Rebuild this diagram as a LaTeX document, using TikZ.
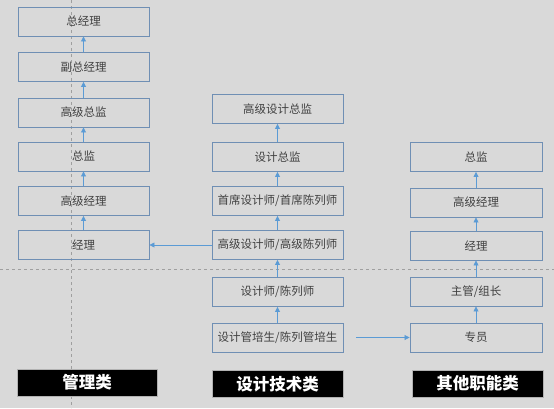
\documentclass[tikz,border=0pt]{standalone}
\usepackage{fontspec}
\setmainfont{Noto Sans CJK SC}
\usepackage{xcolor}
\usetikzlibrary{arrows.meta}

\definecolor{bggray}{HTML}{D9D9D9}
\definecolor{boxline}{HTML}{6F8FB4}
\definecolor{flowblue}{HTML}{5B9BD5}
\definecolor{txtgray}{HTML}{404040}

\begin{document}
\begin{tikzpicture}[x=1pt, y=-1pt,
        rank/.style={draw=boxline, line width=0.9pt, minimum width=131pt, minimum height=29pt, align=center, inner sep=1pt, font=\fontsize{11.5}{13}\selectfont, text=txtgray},
        category/.style={fill=black, draw=gray!60, minimum width=131pt, minimum height=27pt, font=\fontsize{16.5}{18}\selectfont\bfseries, text=white},
        guide/.style={gray!75, dashed, line width=0.5pt},
        flow/.style={-{Triangle[length=5pt, width=5pt]}, line width=0.8pt, flowblue}
    ]
        \useasboundingbox[fill=bggray] (0,0) rectangle (554,408);

        % guide lines
        \draw[guide] (71,0) -- (71,408);
        \draw[guide] (0,269) -- (554,269);

        % management track
        \node[rank] (mgmtceo) at (83.5,21.5) {总经理};
        \node[rank] (mgmtvp) at (83.5,67) {副总经理};
        \node[rank] (mgmtsrdir) at (83.5,112.5) {高级总监};
        \node[rank] (mgmtdir) at (83.5,156.5) {总监};
        \node[rank] (mgmtsrmgr) at (83.5,201) {高级经理};
        \node[rank] (mgmtmgr) at (83.5,245) {经理};

        % design track
        \node[rank] (dessrdir) at (277.5,109) {高级设计总监};
        \node[rank] (desdir) at (277.5,157) {设计总监};
        \node[rank] (deschief) at (277.5,201) {首席设计师/首席陈列师};
        \node[rank] (dessenior) at (277.5,245) {高级设计师/高级陈列师};
        \node[rank] (desjunior) at (277.5,292) {设计师/陈列师};
        \node[rank] (destrainee) at (277.5,337.5) {设计管培生/陈列管培生};

        % other functions track
        \node[rank, minimum width=132pt] (othdir) at (476,157) {总监};
        \node[rank, minimum width=132pt] (othsrmgr) at (476,202.5) {高级经理};
        \node[rank, minimum width=132pt] (othmgr) at (476,245.5) {经理};
        \node[rank, minimum width=132pt] (othlead) at (476,291.5) {主管/组长};
        \node[rank, minimum width=132pt] (othstaff) at (476,337.5) {专员};

        % categories
        \node[category, minimum width=140pt] (catmgmt) at (87,382.5) {管理类};
        \node[category] (catdes) at (277.5,384) {设计技术类};
        \node[category] (catoth) at (477.5,383.5) {其他职能类};

        \draw[flow] (mgmtvp) -- (mgmtceo);
        \draw[flow] (mgmtsrdir) -- (mgmtvp);
        \draw[flow] (mgmtdir) -- (mgmtsrdir);
        \draw[flow] (mgmtsrmgr) -- (mgmtdir);
        \draw[flow] (mgmtmgr) -- (mgmtsrmgr);

        \draw[flow] (desdir) -- (dessrdir);
        \draw[flow] (deschief) -- (desdir);
        \draw[flow] (dessenior) -- (deschief);
        \draw[flow] (desjunior) -- (dessenior);
        \draw[flow] (destrainee) -- (desjunior);

        \draw[flow] (othsrmgr) -- (othdir);
        \draw[flow] (othmgr) -- (othsrmgr);
        \draw[flow] (othlead) -- (othmgr);
        \draw[flow] (othstaff) -- (othlead);

        \draw[flow] (dessenior.west) -- (mgmtmgr.east);
        \draw[flow, shorten <=13pt] (destrainee.east) -- (othstaff.west);
    \end{tikzpicture}
\end{document}
